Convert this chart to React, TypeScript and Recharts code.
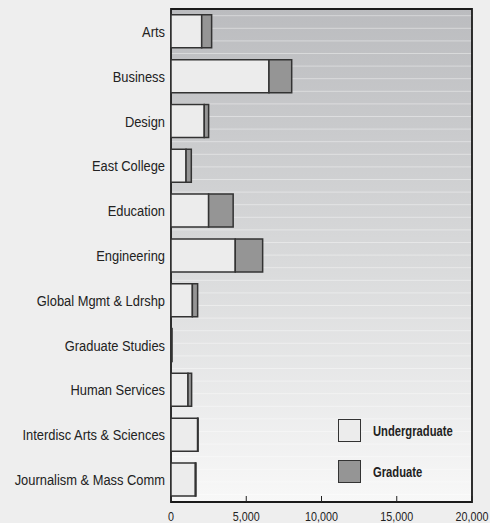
import React from 'react';
import {
  Bar,
  BarChart,
  CartesianGrid,
  ReferenceArea,
  XAxis,
  YAxis,
} from 'recharts';

const colleges = [
  'Arts',
  'Business',
  'Design',
  'East College',
  'Education',
  'Engineering',
  'Global Mgmt & Ldrshp',
  'Graduate Studies',
  'Human Services',
  'Interdisc Arts & Sciences',
  'Journalism & Mass Comm',
];
const undergraduate = [2040, 6510, 2210, 1000, 2500, 4270, 1420, 0, 1130, 1770, 1620];
const graduate = [660, 1510, 290, 350, 1630, 1820, 350, 70, 240, 30, 40];
const xTicks = [0, 5000, 10000, 15000, 20000];

const seriesNames = ['Undergraduate', 'Graduate'];
const seriesColors = ['#ececec', '#959595'];

const data = colleges.map((name, i) => ({
  name,
  Undergraduate: undergraduate[i],
  Graduate: graduate[i],
}));

const FONT = '"Liberation Sans", Arial, sans-serif';
const SQUEEZE = 0.86;

// narrow text: Arial squeezed horizontally to look like Arial Narrow
const NarrowText = ({ x, y, anchor, size, bold, children }: any) => (
  <text
    transform={`translate(${x},${y}) scale(${SQUEEZE},1)`}
    textAnchor={anchor}
    fill="#222"
    fontSize={size}
    fontWeight={bold ? 'bold' : 'normal'}
    fontFamily={FONT}
  >
    {children}
  </text>
);

const XTick = (props: any) => {
  const { x, y, payload } = props;
  return (
    <g>
      <line x1={x} x2={x} y1={y} y2={y - 6} stroke="#222" strokeWidth={1} />
      <NarrowText x={x} y={y + 18.5} anchor="middle" size={12.5}>
        {payload.value.toLocaleString('en-US')}
      </NarrowText>
    </g>
  );
};

const YTick = (props: any) => {
  const { x, y, payload } = props;
  return (
    <NarrowText x={x} y={y + 5.5} anchor="end" size={15}>
      {payload.value}
    </NarrowText>
  );
};

export default function App() {
  return (
    <div style={{ position: 'relative', width: 490, height: 523, background: '#eeeeee' }}>
      <style>{'body{margin:0;background:#eeeeee}'}</style>
      <BarChart
        width={490}
        height={523}
        data={data}
        layout="vertical"
        margin={{ top: 9, right: 18, bottom: 0, left: 0 }}
        barCategoryGap="13%"
      >
        <defs>
          <linearGradient id="plotBg" x1="0" y1="0" x2="0" y2="1">
            <stop offset="0%" stopColor="#bbbcbf" />
            <stop offset="50%" stopColor="#d8d9da" />
            <stop offset="100%" stopColor="#f8f8f8" />
          </linearGradient>
        </defs>
        <CartesianGrid
          vertical={false}
          fill="url(#plotBg)"
          fillOpacity={1}
          stroke="rgba(255,255,255,0.4)"
          horizontalCoordinatesGenerator={({ offset }: any) => {
            const lines: number[] = [];
            for (let y = offset.top + 6.7; y < offset.top + offset.height; y += 12.6) lines.push(y);
            return lines;
          }}
        />
        <XAxis
          type="number"
          domain={[0, 20000]}
          ticks={xTicks}
          tick={<XTick />}
          tickSize={0}
          tickMargin={0}
          tickLine={false}
          axisLine={false}
          height={21}
          interval={0}
        />
        <YAxis
          type="category"
          dataKey="name"
          width={171}
          axisLine={false}
          tickLine={false}
          tickSize={0}
          tickMargin={6}
          interval={0}
          tick={<YTick />}
        />
        {seriesNames.map((s, i) => (
          <Bar
            key={s}
            dataKey={s}
            stackId="a"
            fill={seriesColors[i]}
            stroke="#333"
            strokeWidth={1.5}
            isAnimationActive={false}
          />
        ))}
        <ReferenceArea
          x1={0}
          x2={20000}
          fill="none"
          fillOpacity={0}
          stroke="#1a1a1a"
          strokeWidth={1.8}
          ifOverflow="visible"
        />
      </BarChart>
      <div style={{ position: 'absolute', left: 338, top: 419, fontFamily: FONT }}>
        {seriesNames.map((s, i) => (
          <div key={s} style={{ display: 'flex', alignItems: 'center', height: 23, marginBottom: 18 }}>
            <div
              style={{
                width: 21,
                height: 21,
                background: seriesColors[i],
                border: '1.5px solid #333',
                marginRight: 12,
              }}
            />
            <span
              style={{
                fontWeight: 'bold',
                fontSize: 14,
                color: '#222',
                display: 'inline-block',
                transform: `scaleX(0.8)`,
                transformOrigin: 'left center',
              }}
            >
              {s}
            </span>
          </div>
        ))}
      </div>
    </div>
  );
}
